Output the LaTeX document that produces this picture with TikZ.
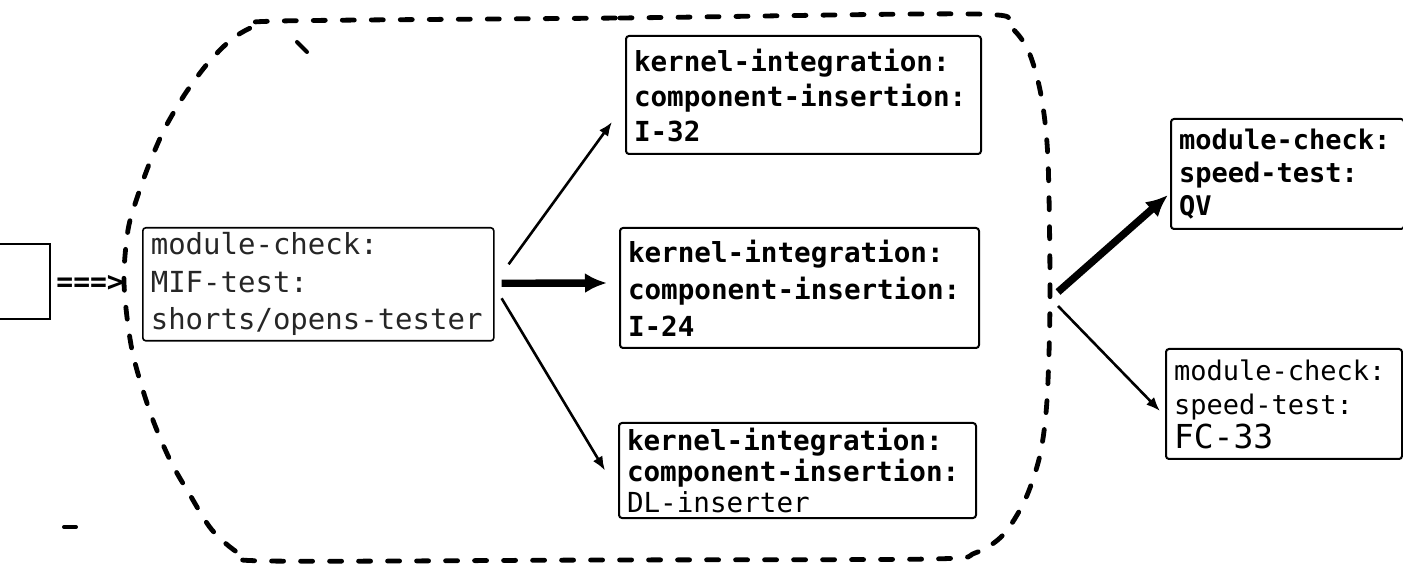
\documentclass[tikz,border=0pt]{standalone}
\usepackage{fontspec}
\newfontfamily\tw{DejaVu Sans Mono}
\usetikzlibrary{arrows.meta}
\newcommand\nohyph{\hyphenpenalty=10000 \exhyphenpenalty=10000 }
\begin{document}
\begin{tikzpicture}[x=0.5pt,y=-0.5pt,
  box/.style={draw, line width=1pt, anchor=north west, align=left, inner xsep=4pt, inner ysep=0pt, rounded corners=1.5pt},
  fb/.style 2 args={font={\tw\bfseries\fontsize{#1}{#2}\selectfont\nohyph}},
  fr/.style 2 args={font={\tw\fontsize{#1}{#2}\selectfont\nohyph}},
  region/.style={line width=2.4pt, dash pattern=on 6pt off 8.5pt, line cap=round},
  thinarrow/.style={line width=1.3pt, -{Latex[length=7pt,width=5.5pt]}},
  thickarrow/.style={line width=3.7pt, -{Latex[length=11pt,width=10pt]}},
  straymark/.style={line width=2pt, line cap=round}]
\useasboundingbox (0,0) rectangle (1403,566);

% dashed region
\draw[region] plot[smooth cycle, tension=0.5] coordinates {
  (280,21) (620,18) (975,14) (1008,25) (1028,50) (1041,95) (1048,160) (1050,300)
  (1047,400) (1040,455) (1025,500) (1003,535) (975,553) (930,559) (600,560) (268,561)
  (240,554) (212,530) (190,495) (170,460) (150,412) (132,350) (124,283) (128,230)
  (138,195) (150,162) (165,128) (185,94) (208,63) (232,39) (255,26)};
\coordinate (R) at (1052,299);

% left partial box and feed
\node[draw, line width=1pt, minimum width=100pt, minimum height=37.5pt, anchor=north east, inner sep=0pt] (src) at (51,243) {};
\node[fb={14}{14}, anchor=west, inner sep=0pt] (feed) at (56,283) {===>};

% boxes
\node[box, fr={14.5}{18.75}, line width=0.8pt, text=black!85, text width=167.5pt, minimum height=56.5pt] (A) at (142,227)
  {module-check:\\MIF-test:\\shorts/opens-tester};
\node[box, fb={13.8}{17.5}, text width=169.5pt, minimum height=59pt] (B1) at (625,35)
  {kernel-integration:\\component-insertion:\\I-32};
\node[box, fr={13.8}{18.5}, text width=171.5pt, minimum height=60pt] (B2) at (619,227)
  {\bfseries kernel-integration:\\component-insertion:\\I-24};
\node[box, fb={13.8}{15.5}, text width=170.5pt, minimum height=47.5pt] (B3) at (618,422)
  {kernel-integration:\\component-insertion:\\\mdseries DL-inserter};
\node[box, fb={13.5}{16.5}, text width=108.5pt, minimum height=55pt] (C1) at (1170,118)
  {module-check:\\speed-test:\\QV};
\node[box, fr={13.5}{17}, text width=110pt, minimum height=55pt] (C2) at (1165,348)
  {module-check:\\speed-test:\\{\fontsize{16.5}{17}\selectfont FC-33}};

% connectors
\draw[thinarrow] ([xshift=7pt,yshift=10pt]A.east) -- ([xshift=-6.5pt,yshift=16.5pt]B1.south west);
\draw[thickarrow] ([xshift=3.5pt,yshift=0.5pt]A.east) -- ([xshift=-6pt,yshift=2.5pt]B2.west);
\draw[thinarrow] ([xshift=3.5pt,yshift=-7pt]A.east) -- ([xshift=-6.5pt]B3.west);
\draw[thickarrow] ([xshift=3pt,yshift=3.5pt]R) -- ([xshift=-1pt,yshift=17.5pt]C1.south west);
\draw[thinarrow] ([xshift=3pt,yshift=-3.5pt]R) -- ([xshift=-2.5pt,yshift=-3.5pt]C2.west);

% stray marks
\draw[straymark] (297,42) -- (307,52);
\draw[straymark] (64,527) -- (76,527);
\end{tikzpicture}
\end{document}
